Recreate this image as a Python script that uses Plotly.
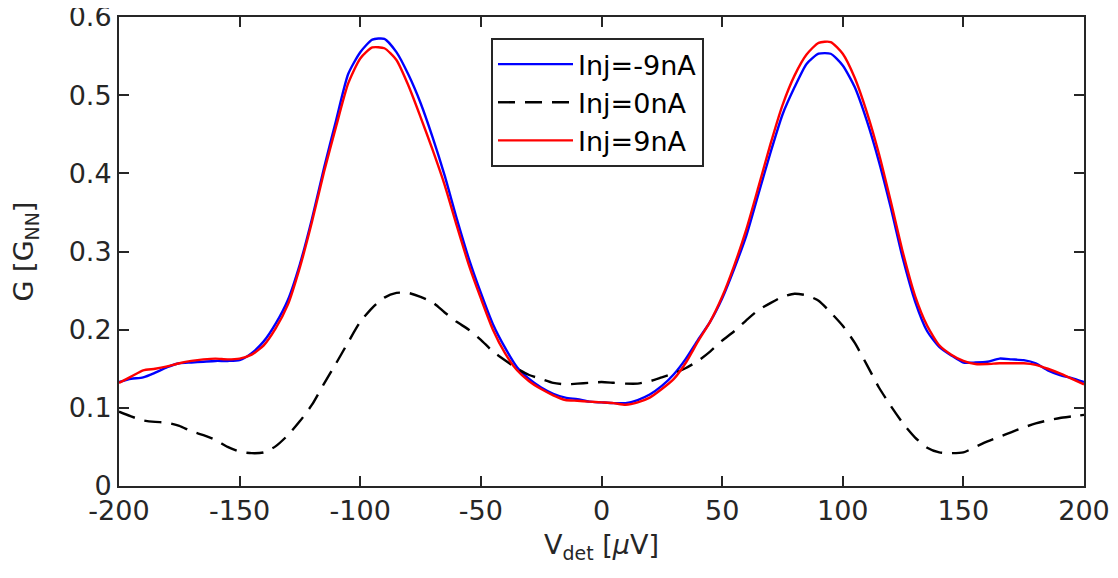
import plotly.graph_objects as go

v_det = list(range(-200, 201, 5))

g_neg9 = [0.133, 0.137, 0.139, 0.145, 0.152, 0.157, 0.158, 0.159, 0.160, 0.160,
          0.161, 0.170, 0.185, 0.208, 0.238, 0.284, 0.342, 0.407, 0.468, 0.527,
          0.555, 0.571, 0.572, 0.555, 0.526, 0.490, 0.446, 0.397, 0.342, 0.291,
          0.247, 0.207, 0.177, 0.152, 0.137, 0.126, 0.118, 0.113, 0.111, 0.108,
          0.107, 0.106, 0.106, 0.110, 0.117, 0.128, 0.143, 0.163, 0.187, 0.210,
          0.240, 0.278, 0.320, 0.373, 0.426, 0.475, 0.510, 0.540, 0.553, 0.553,
          0.538, 0.510, 0.467, 0.415, 0.355, 0.290, 0.236, 0.198, 0.178, 0.167,
          0.158, 0.158, 0.159, 0.163, 0.162, 0.161, 0.157, 0.148, 0.142, 0.138,
          0.133]

g_0 = [0.095, 0.089, 0.084, 0.082, 0.081, 0.077, 0.070, 0.065, 0.059, 0.050,
       0.044, 0.042, 0.043, 0.051, 0.065, 0.083, 0.104, 0.131, 0.157, 0.184,
       0.210, 0.228, 0.241, 0.247, 0.247, 0.242, 0.235, 0.222, 0.210, 0.200,
       0.187, 0.172, 0.161, 0.150, 0.142, 0.137, 0.132, 0.130, 0.131, 0.132,
       0.133, 0.132, 0.131, 0.131, 0.134, 0.139, 0.144, 0.151, 0.160, 0.172,
       0.186, 0.198, 0.212, 0.225, 0.234, 0.242, 0.246, 0.244, 0.237, 0.222,
       0.205, 0.183, 0.155, 0.126, 0.102, 0.080, 0.062, 0.049, 0.043, 0.042,
       0.043, 0.050, 0.057, 0.063, 0.069, 0.075, 0.080, 0.084, 0.087, 0.089,
       0.091]

g_pos9 = [0.132, 0.140, 0.148, 0.150, 0.153, 0.157, 0.160, 0.162, 0.163, 0.162,
          0.163, 0.168, 0.180, 0.202, 0.232, 0.280, 0.338, 0.402, 0.460, 0.515,
          0.547, 0.561, 0.560, 0.545, 0.512, 0.472, 0.430, 0.385, 0.333, 0.283,
          0.240, 0.200, 0.170, 0.148, 0.134, 0.124, 0.116, 0.110, 0.109, 0.108,
          0.107, 0.106, 0.104, 0.107, 0.113, 0.124, 0.137, 0.158, 0.185, 0.210,
          0.242, 0.282, 0.328, 0.382, 0.437, 0.487, 0.525, 0.552, 0.567, 0.568,
          0.553, 0.522, 0.478, 0.425, 0.363, 0.298, 0.243, 0.205, 0.180, 0.168,
          0.160, 0.156, 0.156, 0.157, 0.157, 0.157, 0.155, 0.150, 0.144, 0.137,
          0.130]

series_names = ["Inj=-9nA", "Inj=0nA", "Inj=9nA"]

x_ticks = [-200, -150, -100, -50, 0, 50, 100, 150, 200]
y_ticks = [0, 0.1, 0.2, 0.3, 0.4, 0.5, 0.6]
y_ticktext = ["0", "0.1", "0.2", "0.3", "0.4", "0.5", "0.6"]

FONT = "DejaVu Sans"
TXT = "#262626"
FS = 27

fig = go.Figure()
fig.add_trace(go.Scatter(x=v_det, y=g_neg9, mode="lines", name=series_names[0],
                         line=dict(color="#0000ff", width=2.4, shape="spline", smoothing=0.6)))
fig.add_trace(go.Scatter(x=v_det, y=g_0, mode="lines", name=series_names[1],
                         line=dict(color="#000000", width=2.4, dash="17px,10px", shape="spline", smoothing=0.6)))
fig.add_trace(go.Scatter(x=v_det, y=g_pos9, mode="lines", name=series_names[2],
                         line=dict(color="#ff0000", width=2.4, shape="spline", smoothing=0.6)))

axis_common = dict(
    showline=True, linecolor=TXT, linewidth=2, mirror="allticks",
    ticks="inside", ticklen=10, tickwidth=2, tickcolor=TXT,
    showgrid=False, zeroline=False, automargin=False,
    ticklabeloverflow="allow",
    tickfont=dict(family=FONT, size=FS, color=TXT),
)

# page body has an 8px margin; figure sized so the plot area lands at x 119-1084, y 17-486
fig.update_layout(
    width=1102, height=562,
    margin=dict(l=111, r=26, t=9, b=84),
    paper_bgcolor="white", plot_bgcolor="white",
    font=dict(family=FONT, color=TXT, size=FS),
    xaxis=dict(range=[-200, 200], tickvals=x_ticks, ticktext=[str(t) for t in x_ticks],
               title=dict(text="V<sub>det</sub> [<i>μ</i>V]", font=dict(family=FONT, size=FS, color=TXT), standoff=10),
               **axis_common),
    yaxis=dict(range=[0, 0.6], tickvals=y_ticks, ticktext=y_ticktext,
               title=dict(text="G [G<sub>NN</sub>]", font=dict(family=FONT, size=FS, color=TXT), standoff=30),
               **axis_common),
    legend=dict(x=0.3855, y=0.955, xanchor="left", yanchor="top",
                bgcolor="white", bordercolor=TXT, borderwidth=2,
                font=dict(family=FONT, size=FS, color="#000000"),
                tracegroupgap=0, itemwidth=75),
    showlegend=True,
)

fig.write_html("out.html")
